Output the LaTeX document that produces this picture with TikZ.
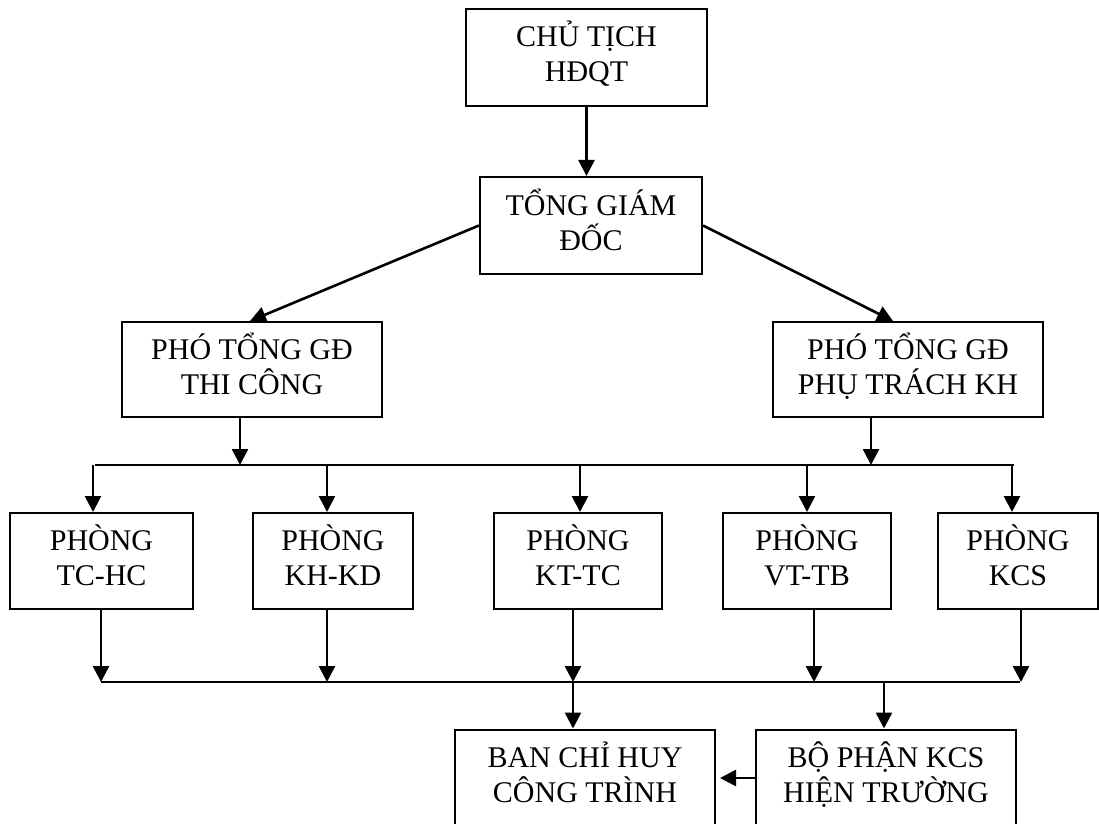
\documentclass[tikz,border=0pt]{standalone}
\usepackage{fontspec}
\setmainfont{Liberation Serif}
\usepackage{tikz}
\usetikzlibrary{arrows.meta}

\tikzset{
  box/.style={draw, line width=1pt, rectangle, align=center, inner sep=0pt,
    text depth=6pt, font=\fontsize{15}{17.5}\selectfont},
  arr/.style={line width=1.3pt, -{Triangle[length=8pt,width=8pt]}},
  bus/.style={line width=1.3pt}
}

\begin{document}
\begin{tikzpicture}[x=0.5pt, y=-0.5pt]

  \useasboundingbox (0,0) rectangle (1099,824);

  \node[box, minimum width=120.5pt, minimum height=48.5pt] (chutich) at (586.5,57.5) {CHỦ TỊCH\\HĐQT};
  \node[box, minimum width=111pt, minimum height=48.5pt] (tgd) at (591,225.5) {TỔNG GIÁM\\ĐỐC};
  \draw[arr] (chutich.south) -- (chutich.south |- tgd.north);

  \node[box, minimum width=130pt, minimum height=47.5pt] (ptgtc) at (252,369.5) {PHÓ TỔNG GĐ\\THI CÔNG};
  \node[box, minimum width=135pt, minimum height=47.5pt] (ptgkh) at (908,369.5) {PHÓ TỔNG GĐ\\PHỤ TRÁCH KH};
  \draw[arr] (tgd.west) -- ([xshift=-1pt]ptgtc.north);
  \draw[arr] (tgd.east) -- ([xshift=-7.5pt]ptgkh.north);

  \node[box, minimum width=91.5pt, minimum height=48pt] (tchc) at (101.5,561) {PHÒNG\\TC-HC};
  \node[box, minimum width=80pt, minimum height=48pt] (khkd) at (333,561) {PHÒNG\\KH-KD};
  \node[box, minimum width=84pt, minimum height=48pt] (kttc) at (578,561) {PHÒNG\\KT-TC};
  \node[box, minimum width=84pt, minimum height=48pt] (vttb) at (807,561) {PHÒNG\\VT-TB};
  \node[box, minimum width=80pt, minimum height=48pt] (kcs) at (1018,561) {PHÒNG\\KCS};

  \coordinate (busa) at (95,465);
  \coordinate (busb) at (1014,465);
  \draw[bus] (busa) -- (busb);
  \coordinate (ttc) at (240,465);
  \coordinate (tkh) at (871,465);
  \draw[arr] (ttc |- ptgtc.south) -- (ttc);
  \draw[arr] (tkh |- ptgkh.south) -- (tkh);

  \foreach \n/\x in {tchc/93, khkd/327, kttc/580, vttb/807, kcs/1012}{
    \coordinate (t\n) at (\x,465);
    \draw[arr] (t\n) -- (t\n |- \n.north);
  }

  \node[box, minimum width=130pt, minimum height=48.5pt] (ban) at (585,778) {BAN CHỈ HUY\\CÔNG TRÌNH};
  \node[box, minimum width=130pt, minimum height=48.5pt] (bophan) at (886,778) {BỘ PHẬN KCS\\HIỆN TRƯỜNG};

  \coordinate (busc) at (101,682);
  \coordinate (busd) at (1020,682);
  \draw[bus] (busc) -- (busd);

  \foreach \n/\x in {tchc/101, khkd/327, kttc/573, vttb/814, kcs/1021}{
    \coordinate (b\n) at (\x,682);
    \draw[arr] (b\n |- \n.south) -- (b\n);
  }

  \coordinate (bban) at (573,682);
  \coordinate (bbp) at (884,682);
  \draw[arr] (bban) -- (bban |- ban.north);
  \draw[arr] (bbp) -- (bbp |- bophan.north);
  \draw[arr, shorten >=2pt] (bophan.west) -- (ban.east);

\end{tikzpicture}
\end{document}
